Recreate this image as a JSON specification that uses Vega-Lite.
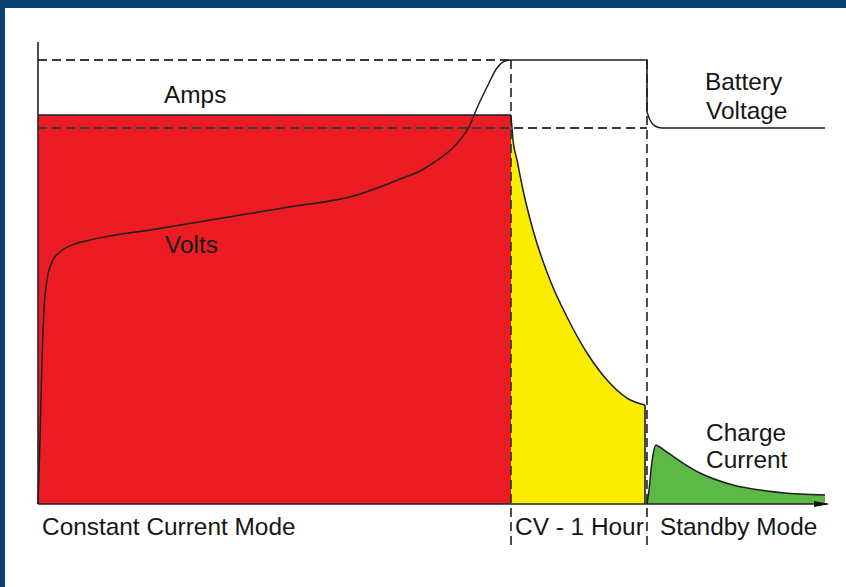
{
  "$schema": "https://vega.github.io/schema/vega-lite/v6.json",
  "autosize": {"type": "none"},
  "width": 841,
  "height": 579,
  "padding": {"left": 5, "top": 8, "right": 0, "bottom": 0},
  "background": "#0b426f",
  "view": {"fill": "white", "stroke": null},
  "config": {"text": {"font": "Liberation Sans", "fontSize": 24.4, "color": "#161616"}},
  "datasets": {
    "areas": [
      {"phase": "cc", "t": 0, "v": 87.61},
      {"phase": "cc", "t": 10, "v": 87.61},
      {"phase": "cv", "t": 10, "v": 87.61},
      {"phase": "cv", "t": 10.042, "v": 81.98},
      {"phase": "cv", "t": 10.127, "v": 77.48},
      {"phase": "cv", "t": 10.254, "v": 70.72},
      {"phase": "cv", "t": 10.465, "v": 61.71},
      {"phase": "cv", "t": 10.824, "v": 50.45},
      {"phase": "cv", "t": 11.184, "v": 42.12},
      {"phase": "cv", "t": 11.607, "v": 34.01},
      {"phase": "cv", "t": 12.03, "v": 27.93},
      {"phase": "cv", "t": 12.452, "v": 23.87},
      {"phase": "cv", "t": 12.833, "v": 22.3},
      {"phase": "sb", "t": 12.875, "v": 0},
      {"phase": "sb", "t": 12.918, "v": 3.15},
      {"phase": "sb", "t": 12.96, "v": 7.66},
      {"phase": "sb", "t": 13.002, "v": 11.04},
      {"phase": "sb", "t": 13.066, "v": 13.29},
      {"phase": "sb", "t": 13.108, "v": 13.06},
      {"phase": "sb", "t": 13.298, "v": 11.71},
      {"phase": "sb", "t": 13.636, "v": 9.23},
      {"phase": "sb", "t": 13.996, "v": 6.98},
      {"phase": "sb", "t": 14.693, "v": 4.28},
      {"phase": "sb", "t": 15.412, "v": 2.93},
      {"phase": "sb", "t": 16.11, "v": 2.25},
      {"phase": "sb", "t": 16.638, "v": 2.03}
    ],
    "curves": [
      {"s": "cv", "t": 10, "v": 87.61},
      {"s": "cv", "t": 10.042, "v": 81.98},
      {"s": "cv", "t": 10.127, "v": 77.48},
      {"s": "cv", "t": 10.254, "v": 70.72},
      {"s": "cv", "t": 10.465, "v": 61.71},
      {"s": "cv", "t": 10.824, "v": 50.45},
      {"s": "cv", "t": 11.184, "v": 42.12},
      {"s": "cv", "t": 11.607, "v": 34.01},
      {"s": "cv", "t": 12.03, "v": 27.93},
      {"s": "cv", "t": 12.452, "v": 23.87},
      {"s": "cv", "t": 12.833, "v": 22.3},
      {"s": "sb", "t": 12.875, "v": 0},
      {"s": "sb", "t": 12.918, "v": 3.15},
      {"s": "sb", "t": 12.96, "v": 7.66},
      {"s": "sb", "t": 13.002, "v": 11.04},
      {"s": "sb", "t": 13.066, "v": 13.29},
      {"s": "sb", "t": 13.108, "v": 13.06},
      {"s": "sb", "t": 13.298, "v": 11.71},
      {"s": "sb", "t": 13.636, "v": 9.23},
      {"s": "sb", "t": 13.996, "v": 6.98},
      {"s": "sb", "t": 14.693, "v": 4.28},
      {"s": "sb", "t": 15.412, "v": 2.93},
      {"s": "sb", "t": 16.11, "v": 2.25},
      {"s": "sb", "t": 16.638, "v": 2.03},
      {"s": "volts", "t": 0, "v": 0},
      {"s": "volts", "t": 0.042, "v": 14.41},
      {"s": "volts", "t": 0.085, "v": 32.43},
      {"s": "volts", "t": 0.127, "v": 43.69},
      {"s": "volts", "t": 0.19, "v": 50.45},
      {"s": "volts", "t": 0.296, "v": 54.5},
      {"s": "volts", "t": 0.465, "v": 56.76},
      {"s": "volts", "t": 0.782, "v": 58.56},
      {"s": "volts", "t": 1.099, "v": 59.46},
      {"s": "volts", "t": 2.5, "v": 61.93},
      {"s": "volts", "t": 4.0, "v": 64.57},
      {"s": "volts", "t": 5.5, "v": 67.21},
      {"s": "volts", "t": 6.596, "v": 69.14},
      {"s": "volts", "t": 7.23, "v": 71.4},
      {"s": "volts", "t": 7.653, "v": 73.2},
      {"s": "volts", "t": 8.076, "v": 75.0},
      {"s": "volts", "t": 8.351, "v": 76.8},
      {"s": "volts", "t": 8.647, "v": 79.05},
      {"s": "volts", "t": 8.922, "v": 81.98},
      {"s": "volts", "t": 9.133, "v": 85.36},
      {"s": "volts", "t": 9.281, "v": 89.19},
      {"s": "volts", "t": 9.493, "v": 93.92},
      {"s": "volts", "t": 9.704, "v": 98.2},
      {"s": "volts", "t": 9.873, "v": 99.77},
      {"s": "volts", "t": 10, "v": 100},
      {"s": "battery", "t": 12.875, "v": 88.29},
      {"s": "battery", "t": 12.939, "v": 86.49},
      {"s": "battery", "t": 13.044, "v": 85.14},
      {"s": "battery", "t": 13.192, "v": 84.68},
      {"s": "battery", "t": 16.638, "v": 84.68}
    ],
    "segments": [
      {"s": "amps", "i": 0, "t": 0, "v": 87.61},
      {"s": "amps", "i": 1, "t": 10, "v": 87.61},
      {"s": "cvedge", "i": 0, "t": 12.833, "v": 22.3},
      {"s": "cvedge", "i": 1, "t": 12.833, "v": 0},
      {"s": "cvflat", "i": 0, "t": 10, "v": 100},
      {"s": "cvflat", "i": 1, "t": 12.875, "v": 100},
      {"s": "cvflat", "i": 2, "t": 12.875, "v": 88.29}
    ],
    "dashed": [
      {"t": 0, "t2": 10, "v": 100, "v2": 100},
      {"t": 0, "t2": 12.875, "v": 84.68, "v2": 84.68},
      {"t": 10, "t2": 10, "v": 100, "v2": -9.23},
      {"t": 12.875, "t2": 12.875, "v": 100, "v2": -9.23}
    ],
    "axes": [
      {"t": 0, "t2": 0, "v": 0, "v2": 104.05},
      {"t": 0, "t2": 16.68, "v": 0, "v2": 0}
    ],
    "arrow": [{"t": 16.575, "v": 0}],
    "labels": [
      {"label": "Amps", "t": 2.664, "v": 90.32},
      {"label": "Volts", "t": 2.685, "v": 56.53},
      {"label": "Battery", "t": 14.101, "v": 93.24},
      {"label": "Voltage", "t": 14.123, "v": 86.71},
      {"label": "Charge", "t": 14.123, "v": 14.19},
      {"label": "Current", "t": 14.123, "v": 8.11},
      {"label": "Constant Current Mode", "t": 0.085, "v": -6.98},
      {"label": "CV - 1 Hour", "t": 10.085, "v": -6.98},
      {"label": "Standby Mode", "t": 13.15, "v": -6.98}
    ]
  },
  "encoding": {
    "x": {"field": "t", "type": "quantitative", "axis": null, "scale": {"domain": [-0.6977, 17.0825], "nice": false, "zero": false}},
    "y": {"field": "v", "type": "quantitative", "axis": null, "scale": {"domain": [-18.694, 111.712], "nice": false, "zero": false}}
  },
  "layer": [
    {
      "data": {"name": "areas"},
      "mark": {"type": "area", "opacity": 1, "interpolate": "monotone"},
      "encoding": {
        "y": {"field": "v", "type": "quantitative", "stack": null},
        "y2": {"datum": 0},
        "color": {"field": "phase", "type": "nominal", "legend": null, "scale": {"domain": ["cc", "cv", "sb"], "range": ["#ec1c24", "#fbed00", "#5cb946"]}}
      }
    },
    {
      "data": {"name": "dashed"},
      "mark": {"type": "rule", "color": "#3a3a3a", "strokeWidth": 1.8, "strokeDash": [9, 5]},
      "encoding": {"x2": {"field": "t2"}, "y2": {"field": "v2"}}
    },
    {
      "data": {"name": "curves"},
      "mark": {"type": "line", "color": "#1e1e1e", "strokeWidth": 1.5, "interpolate": "monotone"},
      "encoding": {"detail": {"field": "s"}}
    },
    {
      "data": {"name": "segments"},
      "mark": {"type": "line", "color": "#1e1e1e", "strokeWidth": 1.6},
      "encoding": {"detail": {"field": "s"}, "order": {"field": "i", "type": "quantitative"}}
    },
    {
      "data": {"name": "axes"},
      "mark": {"type": "rule", "color": "#222222", "strokeWidth": 1.6},
      "encoding": {"x2": {"field": "t2"}, "y2": {"field": "v2"}}
    },
    {
      "data": {"name": "arrow"},
      "mark": {"type": "point", "shape": "M-1,-0.375L1,0L-1,0.375Z", "size": 256, "filled": true, "color": "#111111", "opacity": 1}
    },
    {
      "data": {"name": "labels"},
      "mark": {"type": "text", "align": "left", "baseline": "alphabetic"},
      "encoding": {"text": {"field": "label"}}
    }
  ]
}
